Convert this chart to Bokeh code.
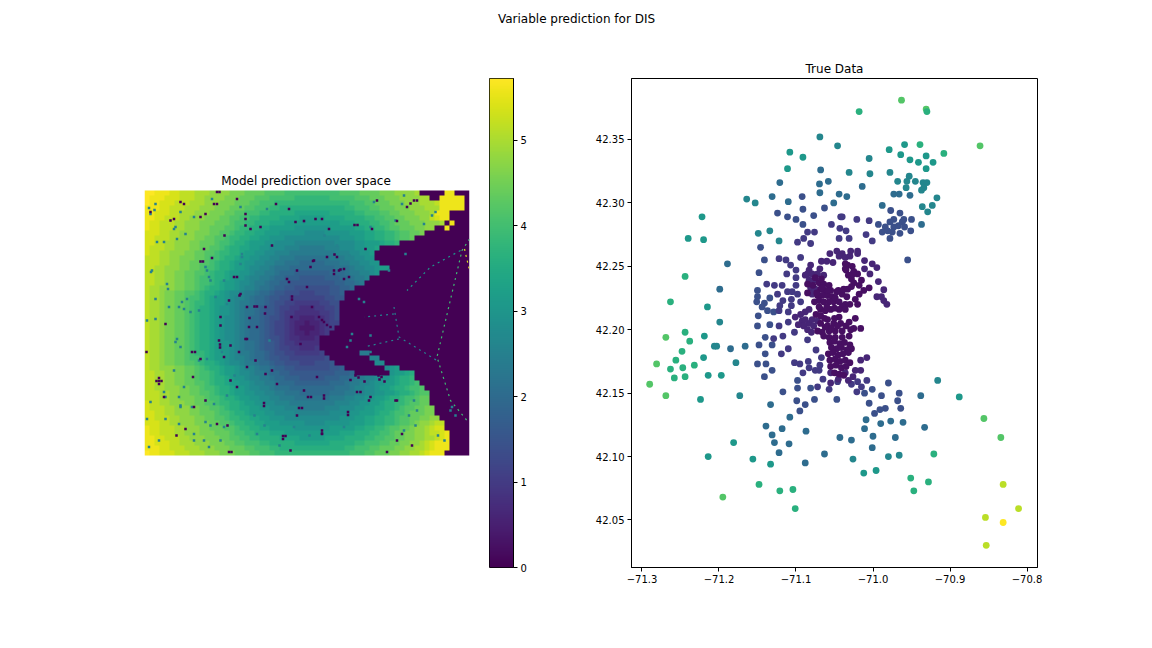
from bokeh.plotting import figure
from bokeh.models import Range1d, LinearColorMapper, ColumnDataSource, FixedTicker
from bokeh.core.properties import value
from bokeh.layouts import column, row
from bokeh.palettes import Viridis256
from bokeh.embed import file_html
from bokeh.resources import INLINE
import numpy as np

suptitle = "Variable prediction for DIS"
map_title = "Model prediction over space"
scatter_title = "True Data"

# Raster; each character is a level of 0.2 (0-9, a=2.0 ... t=5.8), 0 is water
level_chars = "0123456789abcdefghijklmnopqrst"
level_step = 0.2
grid_cols = 65
heat_rows = [
"ttsssrrqqqpppoooonnnmmmmllllkkkkkkkkkkkllllmmmmnnnoooop00000ss000",
"tsssrrrqqqppoooonnnmmmlllkkkkkjjjjjjjkkkkklllmmmnnnoooopp00sssss0",
"tssrrrqqqpppooonnnmmmllkkkjjjjjjjjjjjjjjjkkkllmmmnnnooopppqsssss0",
"sssrrqqqpppooonnnmmmllkkkjjiiiiiiiiiiiiijjkkkllmmmnnnooopppsssss0",
"ssrrrqqpppooonnnmmllkkkjjiiiiihhhhhhhiiiiijjkkkllmmnnnooopsss",
"ssrrqqqppooonnnmmllkkjjiiiihhhhggggghhhhiiiijjkkllmmnnnooqrss",
"srrqqqppooonnnmmmlkkjjiiihhhggggggggggghhhiiijjkklmmmnnnooop0s",
"srrqqqppooonnmmmllkjjiihhgggggfffffffggggghhiijjkllmmmnnoo00s",
"rrrqqppooonnnmmllkjjiihhgggfffffeeeefffffggghhiijjkllmmn",
"rrqqqppooonnmmllkjjiihhggfffeeeeeeeeeeefffgghhiijjkllm",
"rrqqppooonnmmmlkkjiihgggffeeeeddddddddeeeeffggghiij",
"rqqqppooonnmmllkjiihhggffeeedddcccccdddeeeffggh",
"rqqppooonnmmllkjjiihggffeedddcccccccccdddeeffg",
"qqqppoonnnmmlkkjiihggffeeddcccbbbbbbbcccddeeff",
"qqqppoonnmmllkjiihggffeeddccbbbaaaaabbbccddeeff",
"qqppooonnmmlkkjiihggfeeddcbbbaaaaaaaaabbbcddeefgg",
"qqppoonnmmllkjiihggffeddccbaaa9999999aaabccddef",
"qqppoonnmmlkkjiihgffeddccbaa99988888999aabccd",
"qqppoonnmmlkkjihggfeedccbaa9988888888899aabc",
"qppooonnmmlkjiihggfeddcbba998877777778899a",
"qpponnmmllkjiihgfeedccbaa988777666777889",
"qpponnmmlkkjihggfeddcbaa9887766666667788",
"qpponnmmlkjjihggfedccbaa987766555556677",
"qpponnmmlkjiihgffedcbba9887665544455667",
"qpponnmmlkjiihgffedcbba9887655444445567",
"qpponnmmlkjiihgfeedcbaa9877654433344567",
"qpponnmmlkjiihgfeedcbaa9876654332334566",
"qpponnmmlkjiihgfeedcbaa987665432223456",
"qpponnmmlkjiihgfeedcbaa98766543323345",
"qpponnmmlkjiihgfeedcbaa987765443334",
"qpponnmmlkjiihgffedcbba988765544444",
"qpponnmmlkjiihgffedcbba988766554445",
"qpponnmmlkjjihggfedccbaa9877665555560000000cc",
"qpponnmmlkkjihggfeddcbaa988776666666700000000dd",
"qpponnmmllkjiihgfeedccbaa988777666777800000000ee",
"qppooonnmmlkjiihggfeddcbba9988777777788900000000efg",
"qqppoonnmmlkkjihggfeedccbaa99888888888999a0000000fgghi",
"qqppoonnmmlkkjiihgffeddccbaa99988888999aabccddeffghiij",
"qqppoonnmmllkjiihggffeddccbaaa9999999aaabccddeffgghiijk",
"qqppooonnmmlkkjiihggfeeddcbbbaaaaaaaaabbbcddeefgghiijkkl",
"qqqppoonnmmllkjiihggffeeddccbbbaaaaaabbbccddeeffgghiijkll",
"qqqppoonnnmmlkkjiihggffeeddcccbbbbbbbcccddeeffgghiijkklmm",
"rqqppooonnmmllkjjiihggffeedddcccccccccdddeeffgghiijjkllmm",
"rqqqppooonnmmllkjiihhggffeeedddcccccdddeeeffgghhiijkllmmnn",
"rrqqppooonnmmmlkkjiihgggffeeeedddddddeeeeffggghiijkklmmmnn",
"rrqqqppooonnmmllkjjiihhggfffeeeeeeeeeeefffgghhiijjkllmmnnoo",
"rrrqqppooonnnmmllkjjiihhgggfffffeeeefffffggghhiijjkllmnoopqq",
"srrqqqppooonnmmmllkjjiihhgggggfffffffggggghhiijjkllmmnoopqrr",
"srrqqqppooonnnmmmlkkjjiiihhhggggggggggghhhiiijjkklmmnnoopqqrs",
"ssrrqqqppooonnnmmllkkjjiiiihhhhggggghhhhiiiijjkkllmmnnooppqrs",
"ssrrrqqpppooonnnmmllkkkjjiiiiihhhhhhhiiiiijjkkkllmmnnoopqrsss",
"sssrrqqqpppooonnnmmmllkkkjjiiiiiiiiiiiiijjkkkllmmmnnooppqrsss",
"tssrrrqqqpppooonnnmmmllkkkjjjjjjjjjjjjjjjkkkllmmmnnooppqrsss",
]

# Small lakes and marsh specks on the raster (column, row)
dark_col = [2.9,3.4,2.4,2.9,2.9,11.2,11.7,22,22.5,27.7,27.7,28.2,16.9,17.4,42,42.6,30.9,31.5,40.7,40.7,23.9,23.9,32.7,33.3,35.9,35.9,.4,9.7,15.1,15.1,29.5,29.5,32.5,33.7,26.3,14.5,15,14.5,31.9,50.5,45.5,36.9,17.2,9.5,10.1,15.9,12.2,35.5,35.5,41.2,29.4,34.9,35.5,35.9,36.5,37.2,33.5,20.5,19,17.9,18.5,13.5,5.2,7.2,1.2,38.5,37.9,39.9,4.2,11.2,8.2,3.9,9.9,18.5,20.5,26.5,48.5,50.5,53.5,51.5,50.2,46.2,46.8,47.4,44.9,42.5,52.5,53.9,54.5,53.2,44.2,23.2,20.2,28.9,11.9,42.2,42.8,44,47,48,24.1,30.5,38,39.2,25.5,21,16,6.4,16.6,
            5.9,7.9,11.2,12.2,13.9,18.5,20.2,20.2,21.2,28.9,30.2,34.2,35.5,46.5,16.9,19.2,20.5,15.2,15.2,14.9,17.2,18.9,20.2,22.5,20.9,24.2,28.5,30.5,33.2,33.9,36.5,37.9,38.9,39.9,40.9,22.2,25.5,24.2,31.2,31.9,34.5,43.2,45.2,50.5,35.5,29.2,14.5]
dark_row = [38.1,38.1,38.1,37.5,38.7,14.2,14.2,23.2,23.2,49.1,49.7,49.1,52.3,52.3,6.9,6.9,43.5,43.5,44.3,44.9,42.5,43.1,41.3,41.3,41,41.6,32.3,37.3,30.8,31.4,21.2,21.8,19.3,14.1,2.7,.3,.3,2.7,6.1,6.1,7.7,7.7,38,32.3,32.3,33.3,42,48,48.6,37.9,25.3,25.3,25.9,26.3,26.9,27.3,23.3,29.7,21,17.3,17.3,13.5,6,2.3,4.3,13.3,16.7,17.7,26.7,33.7,47.7,41.3,43.3,39.3,35.3,38.7,52.3,50,51,48.7,42,36.7,37,37.3,42,40.3,3.3,2,2,2.6,11.7,7.3,5.7,18.3,11.7,37,37.4,38.2,37.8,38.2,24.6,45,12.8,15.8,11,25.5,9,49,47,
            5.7,2.7,5.3,4.7,2.7,1.7,4.7,7,7.7,3.7,6.3,5.7,5.7,2,22,20.7,23.3,25.3,27,30,31,32.3,29.7,27.3,27.3,23.3,17.7,16,15.3,14,13.3,16,16,15.7,17.3,34,36,36.7,30.7,40,37.3,40.3,41.3,42,48.7,52,46.7]
teal_col = [1.2,2,3.9,2.5,6.5,8.2,5.9,1.3,1.5,4.5,4.7,7.5,8.5,7.9,9.2,10.9,6.5,7.2,6.2,10.9,12.5,1.2,4.2,3.9,6.9,7.2,4.2,6.9,9.9,12.9,13.2,15.2,15.5,19.5,19.2,12.5,16.5,13.2,31.9,51.9,51.5,58.2,57.5,50.2,45.2,52.2,42.9,43.9,41.5,45.2,41.2,40.5,45.2,48.9,61.2,61.5,62.2,60,58.7,54.2,52.9,15.2,24,27,33,22,36,38.5,41,18,25,
            2.2,.9,7.2,6.2,9.9,13.5,19.2,24.5,45.9,55.9,2.2,.5,2.2,4.9,6.9,12.2,12.9,15.9,19.5,14.2,5.9,7.9,7.2,9.5,13.9,16.5,53.9,54.5,51.9,39.9,29.9,22.5,15.9,12.2,9.9,2.9,.9,.5,11.9]
teal_row = [4.7,3.9,10.3,10.3,9.7,8.7,7.7,16.3,16,18.7,19.7,22.3,21.7,23.7,24.3,24,29.7,31.3,30.3,34,33.7,42.3,41.3,40.3,41.3,43,45.7,46.7,50,51.3,47,31.3,32.3,13.3,14.7,16,22.7,18,6.3,1,2.7,4.3,5,6,7.3,12.7,21.7,22.3,28.7,29,30,31.3,32.3,16,44,43.3,45,50,49,47,45,50,47,51,49,45,9,11,13,37,30,
            2.7,3.5,4.3,7.3,5.3,1.7,3.3,3.7,2.3,6.7,21.7,26,25.7,23.3,23.3,15.3,17.3,18,12.7,21.3,36,39.3,43.3,43.3,42.7,41,42,44,48,47.3,47.3,48.7,47.3,46.3,48.7,50,51.3,45.7,50]

# Thin shipping-channel lines across the water
channel_a_col = [65, 63.5, 58.5, 61.2, 64.5]
channel_a_row = [9.7, 12, 33.3, 42, 46]
channel_b_col = [64, 65]
channel_b_row = [11.7, 16]
channel_c_col = [63.2, 57.2, 52.5]
channel_c_row = [12, 15.3, 20]
channel_d_col = [49.9, 50.9, 58.5]
channel_d_row = [23.3, 29.3, 34]
channel_e_col = [50.9, 43.9]
channel_e_row = [29.7, 31.3]
channel_f_col = [49.9, 43.9]
channel_f_row = [24.7, 25.3]

# Scatter points (longitude, latitude), grouped by the DIS value their colour shows
dis_12 = 12.13
lon_12 = [-70.831]
lat_12 = [42.048]
dis_11 = 11.0
lon_11 = [-70.831,-70.811,-70.854,-70.853]
lat_11 = [42.078,42.059,42.052,42.030]
dis_9 = 9.2
lon_9 = [-70.963,-70.931,-70.861,-71.269,-71.281,-71.290,-71.269,-70.856,-70.834,-71.195]
lat_9 = [42.381,42.374,42.345,42.194,42.173,42.157,42.148,42.130,42.115,42.068]
dis_8 = 8.1
lon_8 = [-70.930,-71.018,-70.939,-70.908,-71.244,-71.263,-71.248,-71.256,-71.263,-71.247,-71.258,-71.244,-71.238,-71.244,-71.232,-70.921,-70.951,-70.928,-70.947,-71.148,-71.121,-71.104,-71.101]
lat_8 = [42.372,42.372,42.346,42.339,42.242,42.222,42.183,42.176,42.169,42.170,42.162,42.163,42.191,42.198,42.172,42.102,42.083,42.080,42.073,42.078,42.073,42.074,42.059]
dis_7 = 7.0
lon_7 = [-71.108,-71.111,-71.091,-71.222,-71.240,-71.220,-70.959,-70.964,-70.931,-70.952,-70.941,-70.922,-70.931,-70.979,-71.215,-71.219,-71.220,-71.214,-71.197,-71.224,-71.181,-71.214,-71.156,-71.133,-70.996,-71.012,-70.888]
lat_7 = [42.340,42.327,42.336,42.289,42.272,42.271,42.346,42.338,42.337,42.334,42.332,42.332,42.327,42.342,42.218,42.195,42.178,42.164,42.164,42.145,42.111,42.100,42.098,42.094,42.089,42.087,42.147]
dis_6 = 6.2
lon_6 = [-71.069,-71.046,-71.005,-70.978,-70.953,-70.968,-70.956,-70.945,-70.935,-70.930,-70.957,-70.934,-70.937,-71.004,-71.199,-71.206,-71.203,-71.178,-71.173,-71.164,-71.153,-71.149,-71.134,-71.122,-71.031,-70.923,-70.917,-70.936,-70.929,-70.916,-70.980,-70.966,-71.026]
lat_6 = [42.352,42.345,42.335,42.324,42.321,42.317,42.317,42.317,42.316,42.316,42.312,42.312,42.310,42.323,42.206,42.187,42.187,42.174,42.148,42.303,42.300,42.276,42.278,42.270,42.324,42.298,42.304,42.297,42.293,42.160,42.100,42.101,42.098]
dis_5 = 5.0
lon_5 = [-71.068,-71.121,-71.0695,-71.058,-71.069,-71.131,-71.110,-71.044,-71.051,-71.014,-71.034,-70.973,-70.966,-70.952,-70.937,-70.988,-71.189,-71.199,-71.185,-71.166,-71.133,-71.108,-71.139,-71.118,-71.087,-71.131,-71.128,-71.109,-71.043,-71.122,-71.063,-71.088,-71.028,-71.001,-70.971,-70.938,-70.961,-70.990,-70.977,-71.000,-71.011,-71.009,-70.933]
lat_5 = [42.326,42.316,42.315,42.317,42.308,42.305,42.301,42.307,42.300,42.313,42.305,42.307,42.307,42.306,42.283,42.298,42.252,42.232,42.185,42.187,42.141,42.131,42.124,42.122,42.120,42.117,42.111,42.110,42.115,42.103,42.102,42.095,42.113,42.107,42.115,42.148,42.127,42.126,42.128,42.116,42.122,42.129,42.123]
dis_4 = 3.8
lon_4 = [-71.124,-71.111,-71.100,-71.077,-71.091,-71.063,-71.092,-71.091,-71.146,-70.977,-70.965,-70.950,-70.973,-70.960,-70.978,-70.993,-70.984,-70.988,-70.981,-70.973,-70.975,-70.967,-70.962,-70.959,-70.965,-70.951,-70.978,-70.955,-71.141,-71.148,-71.150,-71.150,-71.151,-71.141,-71.144,-71.137,-71.149,-71.134,-71.129,-71.150,-71.134,-71.140,-71.148,-71.131,-71.140,-71.150,-71.139,-71.131,-71.141,-71.117,-71.099,-71.088,-71.095,-71.098,-71.098,-71.047,-71.076,-71.081,-70.966,-70.968,-70.964,-70.984,-70.991,-70.998,-71.005,-70.989,-71.001,-71.011,-70.980]
lat_4 = [42.292,42.289,42.287,42.290,42.295,42.296,42.305,42.283,42.265,42.294,42.292,42.287,42.287,42.287,42.285,42.283,42.281,42.277,42.278,42.281,42.277,42.282,42.285,42.281,42.276,42.278,42.272,42.255,42.255,42.245,42.231,42.226,42.222,42.221,42.218,42.215,42.211,42.225,42.214,42.203,42.204,42.194,42.188,42.188,42.181,42.173,42.173,42.168,42.163,42.151,42.144,42.141,42.136,42.160,42.154,42.145,42.145,42.154,42.150,42.144,42.138,42.138,42.137,42.134,42.142,42.148,42.153,42.150,42.158]
dis_3 = 3.0
lon_3 = [-71.085,-71.076,-71.090,-71.098,-71.081,-71.054,-71.043,-71.042,-71.040,-71.021,-71.005,-71.035,-71.009,-71.001,-71.044,-71.031,-71.122,-71.113,-71.107,-71.094,-71.112,-71.100,-71.100,-71.138,-71.128,-71.118,-71.100,-71.124,-71.117,-71.122,-71.121,-71.110,-71.111,-71.105,-71.106,-71.106,-71.098,-71.094,-71.122,-71.110,-71.129,-71.117,-71.110,-71.119,-71.102,-71.102,-71.095,-71.084,-71.069,-71.091,-71.083,-71.075,-71.070,-71.065,-71.072,-71.057,-71.028,-71.015,-71.021,-71.020,-71.046,-71.008,-71.074,-71.067,-71.085]
lat_3 = [42.277,42.277,42.272,42.269,42.268,42.283,42.280,42.289,42.289,42.287,42.286,42.278,42.275,42.270,42.272,42.272,42.256,42.255,42.251,42.257,42.244,42.247,42.241,42.236,42.235,42.235,42.235,42.228,42.223,42.215,42.219,42.214,42.230,42.230,42.224,42.219,42.228,42.222,42.203,42.206,42.193,42.195,42.185,42.181,42.198,42.174,42.173,42.175,42.172,42.166,42.170,42.168,42.168,42.161,42.155,42.153,42.157,42.155,42.151,42.159,42.159,42.160,42.184,42.178,42.192]
dis_2 = 2.3
lon_2 = [-71.081,-71.083,-71.088,-71.069,-71.067,-71.060,-71.056,-71.047,-71.052,-71.064,-71.040,-71.029,-71.036,-71.020,-71.030,-71.044,-71.011,-71.001,-70.995,-71.011,-71.004,-70.993,-70.986,-70.995,-70.989,-70.982,-70.986,-71.020,-71.085,-71.079,-71.072,-71.083,-71.077,-71.081,-71.075,-71.079,-71.083,-71.088,-71.094,-71.101,-71.092,-71.083,-71.088,-71.090,-71.079,-71.077,-71.072,-71.016,-71.008,-71.016,-71.023,-71.036,-71.045,-71.032,-71.026,-71.055,-71.055,-71.097,-71.085,-71.080]
lat_2 = [42.251,42.247,42.243,42.248,42.254,42.254,42.260,42.262,42.253,42.243,42.260,42.262,42.257,42.260,42.258,42.258,42.2545,42.252,42.249,42.248,42.244,42.238,42.2315,42.226,42.226,42.220,42.223,42.262,42.244,42.244,42.244,42.239,42.239,42.233,42.232,42.228,42.216,42.214,42.212,42.210,42.207,42.205,42.208,42.203,42.208,42.203,42.207,42.176,42.178,42.168,42.168,42.166,42.161,42.160,42.163,42.166,42.158,42.204,42.200,42.198]
dis_1 = 1.6
lon_1 = [-71.033,-71.027,-71.035,-71.025,-71.032,-71.020,-71.028,-71.036,-71.036,-71.029,-71.026,-71.015,-71.025,-71.018,-71.005,-71.012,-71.018,-71.023,-71.020,-71.030,-71.070,-71.064,-71.057,-71.068,-71.062,-71.055,-71.072,-71.066,-71.059,-71.053,-71.047,-71.040,-71.070,-71.064,-71.057,-71.051,-71.034,-71.036,-71.040,-71.068,-71.062,-71.055,-71.044,-71.036,-71.059,-71.044,-71.068,-71.059,-71.051,-71.042,-71.031,-71.023,-71.025,-71.016,-71.072,-71.066,-71.057,-71.049,-71.040,-71.029,-71.057,-71.049,-71.040,-71.031,-71.064,
         -71.056,-71.050,-71.043,-71.037,-71.030,-71.054,-71.047,-71.041,-71.034,-71.028,-71.058,-71.052,-71.045,-71.039,-71.032,-71.056,-71.049,-71.043,-71.036,-71.030,-71.055,-71.048,-71.041,-71.035,-71.050,-71.044,-71.038,
         -71.075,-71.067,-71.085,-71.078,-71.073,-71.085,-71.066,-71.058,-71.076,-71.070,-71.060,-71.049,-71.044,-71.050,-71.045,-71.038,-71.033,-71.028,-71.062,-71.054,-71.046,-71.035,-71.050,-71.063,-71.074,-71.068]
lat_1 = [42.251,42.250,42.247,42.246,42.243,42.244,42.240,42.248,42.252,42.243,42.244,42.239,42.237,42.235,42.233,42.231,42.228,42.224,42.220,42.220,42.237,42.236,42.235,42.232,42.231,42.231,42.227,42.227,42.227,42.226,42.230,42.228,42.223,42.222,42.222,42.222,42.226,42.220,42.218,42.216,42.215,42.216,42.216,42.216,42.208,42.210,42.205,42.203,42.205,42.205,42.206,42.209,42.201,42.201,42.199,42.198,42.199,42.199,42.199,42.200,42.194,42.194,42.194,42.195,42.195,
         42.190,42.191,42.189,42.190,42.188,42.186,42.185,42.186,42.184,42.185,42.181,42.182,42.180,42.181,42.182,42.176,42.177,42.175,42.176,42.174,42.171,42.172,42.170,42.171,42.166,42.165,42.164,
         42.241,42.240,42.236,42.235,42.229,42.229,42.233,42.231,42.222,42.218,42.218,42.225,42.222,42.217,42.231,42.232,42.232,42.234,42.202,42.201,42.203,42.203,42.209,42.209,42.212,42.211]

dis_min = 1.13
dis_max = 12.13
cbar_ticks = [0, 1, 2, 3, 4, 5]
cbar_top = 5.72
x_ticks = [-71.3, -71.2, -71.1, -71.0, -70.9, -70.8]
y_ticks = [42.05, 42.10, 42.15, 42.20, 42.25, 42.30, 42.35]

FONT = "DejaVu Sans"
PANEL_H = 610
B_TOP = 48
B_BOTTOM = 73


def style_axis(ax):
    ax.major_label_text_font = FONT
    ax.major_label_text_font_size = "10px"
    ax.major_label_text_color = "#000000"
    ax.major_tick_in = 0
    ax.major_tick_out = 4
    ax.minor_tick_line_color = None
    ax.axis_line_color = "#000000"
    ax.major_tick_line_color = "#000000"
    ax.major_label_standoff = 3


# header
head = figure(width=1152, height=30, toolbar_location=None, output_backend="svg",
              x_axis_location=None, y_axis_location=None,
              min_border_left=0, min_border_right=0, min_border_top=0, min_border_bottom=0,
              outline_line_color=None, x_range=(0, 1), y_range=(0, 1))
head.grid.visible = False
head.text(x=[0.5], y=[0.4], text=[suptitle], text_font=value(FONT), text_font_size="12px",
          text_align="center", text_baseline="middle", text_color="#000000")

# map panel: its frame spans the same height as the others, the raster sits in the middle
grid_rows = len(heat_rows)
values = np.array([[level_chars.index(c) * level_step for c in r.ljust(grid_cols, "0")[:grid_cols]]
                   for r in heat_rows])
mapper = LinearColorMapper(palette=Viridis256, low=0, high=5.75)
left = figure(width=480, height=PANEL_H, toolbar_location=None, output_backend="svg",
              x_axis_location=None, y_axis_location=None,
              x_range=Range1d(0, grid_cols), y_range=Range1d(-22.4, grid_rows + 22.4),
              min_border_left=144, min_border_right=11, min_border_top=B_TOP, min_border_bottom=B_BOTTOM,
              outline_line_color=None)
left.grid.visible = False
left.image(image=[np.flipud(values)], x=0, y=0, dw=grid_cols, dh=grid_rows, color_mapper=mapper)
channels = [(channel_a_col, channel_a_row, "#3fbc73"), (channel_b_col, channel_b_row, "#d8e219"),
            (channel_c_col, channel_c_row, "#1f968b"), (channel_d_col, channel_d_row, "#26828e"),
            (channel_e_col, channel_e_row, "#26828e"), (channel_f_col, channel_f_row, "#26828e")]
for cx, cy, colr in channels:
    left.line(cx, [grid_rows - v for v in cy], line_color=colr, line_width=1.2, line_dash="2 4")
n_t = min(len(teal_col), len(teal_row))
n_d = min(len(dark_col), len(dark_row))
left.rect(teal_col[:n_t], [grid_rows - v for v in teal_row[:n_t]], width=0.5, height=0.5,
          fill_color="#26828e", line_color=None)
left.rect(dark_col[:n_d], [grid_rows - v for v in dark_row[:n_d]], width=0.5, height=0.5,
          fill_color="#440154", line_color=None)
left.text(x=[grid_cols / 2 - 0.2], y=[grid_rows + 2], text=[map_title], text_font=value(FONT),
          text_font_size="12px", text_align="center", text_baseline="middle", text_color="#000000")

# colour bar
cbar = figure(width=80, height=PANEL_H, toolbar_location=None, output_backend="svg",
              x_axis_location=None, y_axis_location="right",
              x_range=Range1d(0, 1), y_range=Range1d(0, cbar_top),
              min_border_left=9, min_border_right=47, min_border_top=B_TOP, min_border_bottom=B_BOTTOM,
              outline_line_color="#000000")
cbar.grid.visible = False
cbar.image(image=[np.linspace(0, cbar_top, 256).reshape(256, 1)], x=0, y=0, dw=1, dh=cbar_top,
           color_mapper=LinearColorMapper(palette=Viridis256, low=0, high=cbar_top))
cbar.yaxis.ticker = FixedTicker(ticks=cbar_ticks)
style_axis(cbar.yaxis[0])

# scatter panel
dis_mapper = LinearColorMapper(palette=Viridis256, low=dis_min, high=dis_max)
scat = figure(width=500, height=PANEL_H, title=scatter_title, toolbar_location=None, output_backend="svg",
              x_range=Range1d(-71.3136, -70.7864), y_range=Range1d(42.0125, 42.3981),
              min_border_left=71, min_border_right=23, min_border_top=B_TOP, min_border_bottom=B_BOTTOM,
              outline_line_color="#000000")
scat.grid.visible = False
scat.title.text_font = FONT
scat.title.text_font_size = "12px"
scat.title.text_font_style = "normal"
scat.title.text_color = "#000000"
scat.title.align = "center"
scat.title.standoff = 6
groups = [(lon_12, lat_12, dis_12), (lon_11, lat_11, dis_11), (lon_9, lat_9, dis_9), (lon_8, lat_8, dis_8),
          (lon_7, lat_7, dis_7), (lon_6, lat_6, dis_6), (lon_5, lat_5, dis_5), (lon_4, lat_4, dis_4),
          (lon_3, lat_3, dis_3), (lon_2, lat_2, dis_2), (lon_1, lat_1, dis_1)]
for lon, lat, dis in groups:
    n = min(len(lon), len(lat))
    src = ColumnDataSource(dict(x=lon[:n], y=lat[:n], d=[dis] * n))
    scat.scatter("x", "y", source=src, size=6.8, line_color=None,
                 fill_color={"field": "d", "transform": dis_mapper})
scat.xaxis.ticker = FixedTicker(ticks=x_ticks)
scat.yaxis.ticker = FixedTicker(ticks=y_ticks)
scat.xaxis.major_label_overrides = {v: f"\u2212{abs(v):.1f}" for v in x_ticks}
scat.yaxis.major_label_overrides = {v: f"{v:.2f}" for v in y_ticks}
style_axis(scat.xaxis[0])
style_axis(scat.yaxis[0])

page = column(head, row(left, cbar, scat))
open("out.html", "w").write(file_html(page, INLINE))
